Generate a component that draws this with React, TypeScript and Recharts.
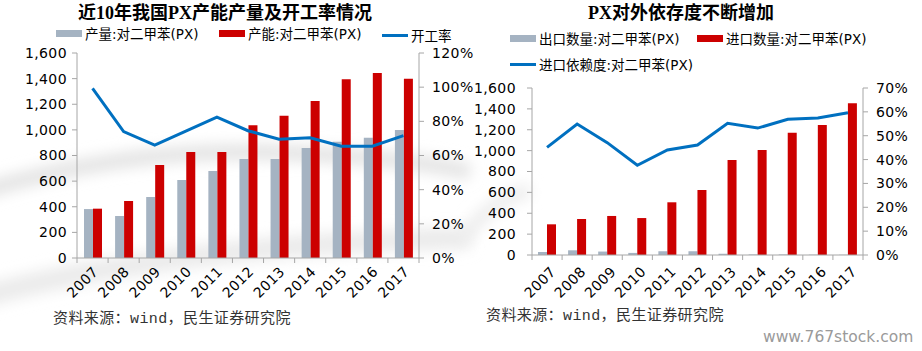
import { Bar, ComposedChart, Line, XAxis, YAxis } from "recharts";

const years = ["2007", "2008", "2009", "2010", "2011", "2012", "2013", "2014", "2015", "2016", "2017"];

// 左图: 产量 / 产能 (万吨), 开工率
const output = [382, 328, 476, 609, 679, 773, 773, 859, 908, 939, 999];
const capacity = [385, 445, 726, 827, 827, 1036, 1110, 1225, 1395, 1444, 1400];
const utilization = [0.993, 0.74, 0.661, 0.743, 0.824, 0.745, 0.695, 0.704, 0.654, 0.654, 0.716];

// 右图: 出口 / 进口数量, 进口依赖度
const exports = [29, 45, 33, 20, 36, 36, 12, 5, 5, 3, 2];
const imports = [294, 345, 374, 354, 505, 623, 910, 1006, 1172, 1245, 1453];
const dependence = [0.451, 0.549, 0.471, 0.376, 0.44, 0.461, 0.552, 0.532, 0.569, 0.574, 0.596];

const leftTicks = [0, 200, 400, 600, 800, 1000, 1200, 1400, 1600];
const rateTicks = [0, 0.2, 0.4, 0.6, 0.8, 1.0, 1.2];
const depTicks = [0, 0.1, 0.2, 0.3, 0.4, 0.5, 0.6, 0.7];

const data1 = years.map((y, i) => ({
    year: y,
    output: output[i],
    capacity: capacity[i],
    rate: utilization[i],
}));

const data2 = years.map((y, i) => ({
    year: y,
    exp: exports[i],
    imp: imports[i],
    dep: dependence[i],
}));

const GREY = "#a5b3c2";
const RED = "#cc0000";
const BLUE = "#0070c0";
const AXIS = "#a6a6a6";
const FONT = "'DejaVu Sans', 'Noto Sans CJK SC', sans-serif";

const tickStyle = { fontSize: 14, fill: "#000", fontFamily: FONT, letterSpacing: 0.4 };

const fmtNum = (v: number) => v.toLocaleString("en-US");
const fmtPct = (v: number) => `${Math.round(v * 100)}%`;

const YearTick = (props: any) => {
    const { x, y, payload, index, band, count, dx = 3, dy = 11 } = props;
    return (
        <g>
            <line x1={x - band / 2} x2={x - band / 2} y1={y} y2={y + 5} stroke={AXIS} />
            {index === count - 1 && (
                <line x1={x + band / 2} x2={x + band / 2} y1={y} y2={y + 5} stroke={AXIS} />
            )}
            <text
                x={x + dx}
                y={y + dy}
                textAnchor="end"
                dominantBaseline="central"
                transform={`rotate(-45 ${x + dx} ${y + dy})`}
                style={tickStyle}
            >
                {payload.value}
            </text>
        </g>
    );
};

const LegendItem = ({ color, line, label }: { color: string; line?: boolean; label: string }) => (
    <span style={{ display: "inline-flex", alignItems: "center", whiteSpace: "nowrap" }}>
        <span
            style={{
                display: "inline-block",
                width: 26,
                height: line ? 3 : 7,
                background: color,
                marginRight: 3,
            }}
        />
        {label}
    </span>
);

const abs = (left: number, top: number, extra: any = {}) => ({
    position: "absolute" as const,
    left,
    top,
    ...extra,
});

const legendText = { fontFamily: FONT, fontSize: 13.5, letterSpacing: 0, color: "#000", lineHeight: "18px" };
const titleText = {
    fontFamily: "'Liberation Serif', 'Noto Sans CJK SC', serif",
    fontWeight: 700,
    fontSize: 18,
    color: "#000",
    lineHeight: "22px",
    whiteSpace: "nowrap" as const,
};
const sourceText = {
    fontFamily: "'Liberation Mono', 'Noto Sans CJK SC', monospace",
    fontSize: 15,
    letterSpacing: 0.4,
    color: "#333",
    lineHeight: "20px",
    whiteSpace: "nowrap" as const,
};

export default function App() {
    return (
        <div style={{ position: "absolute", left: 0, top: 0, width: 922, height: 351, background: "#fff", overflow: "hidden" }}>
            <svg width={922} height={351} style={{ position: "absolute", left: 0, top: 0 }}>
                <defs>
                    <filter id="soft" x="-20%" y="-50%" width="140%" height="200%">
                        <feGaussianBlur stdDeviation="7" />
                    </filter>
                </defs>
                <path d="M -30 195 Q 110 150 260 152 Q 400 156 470 172" stroke="#e4e4e4" strokeWidth={16} fill="none" filter="url(#soft)" />
                <path d="M -30 300 Q 160 245 470 238" stroke="#ebebeb" strokeWidth={22} fill="none" filter="url(#soft)" />
                <path d="M 462 240 Q 490 200 530 190" stroke="#ededed" strokeWidth={14} fill="none" filter="url(#soft)" />
            </svg>

            <div style={abs(0, 2, { width: 450, textAlign: "center", ...titleText })}>近10年我国PX产能产量及开工率情况</div>
            <div style={abs(588, 2, titleText)}>PX对外依存度不断增加</div>

            <div style={abs(56, 23, legendText)}>
                <LegendItem color={GREY} label="产量:对二甲苯(PX)" />
            </div>
            <div style={abs(219, 23, legendText)}>
                <LegendItem color={RED} label="产能:对二甲苯(PX)" />
            </div>
            <div style={abs(382, 23, legendText)}>
                <LegendItem color={BLUE} line label="开工率" />
            </div>

            <div style={abs(510, 28, legendText)}>
                <LegendItem color={GREY} label="出口数量:对二甲苯(PX)" />
            </div>
            <div style={abs(697, 28, legendText)}>
                <LegendItem color={RED} label="进口数量:对二甲苯(PX)" />
            </div>
            <div style={abs(510, 52, legendText)}>
                <LegendItem color={BLUE} line label="进口依赖度:对二甲苯(PX)" />
            </div>

            <div style={abs(0, 0)}>
                <ComposedChart
                    width={480}
                    height={310}
                    data={data1}
                    margin={{ top: 53, right: 0, left: 0, bottom: 0 }}
                    barGap={0}
                >
                    <XAxis
                        dataKey="year"
                        height={52}
                        tickSize={0}
                        tickMargin={0}
                        interval={0}
                        axisLine={{ stroke: AXIS }}
                        tickLine={false}
                        tick={<YearTick band={342 / 11} count={years.length} dx={3} dy={11} />}
                    />
                    <YAxis
                        yAxisId="l"
                        width={77}
                        domain={[0, 1600]}
                        ticks={leftTicks}
                        tickFormatter={fmtNum}
                        tickSize={5}
                        tickMargin={5}
                        axisLine={{ stroke: AXIS }}
                        tickLine={{ stroke: AXIS }}
                        tick={tickStyle}
                        interval={0}
                    />
                    <YAxis
                        yAxisId="r"
                        orientation="right"
                        width={61}
                        domain={[0, 1.2]}
                        ticks={rateTicks}
                        tickFormatter={fmtPct}
                        tickSize={5}
                        tickMargin={8}
                        axisLine={{ stroke: AXIS }}
                        tickLine={{ stroke: AXIS }}
                        tick={tickStyle}
                        interval={0}
                    />
                    <Bar yAxisId="l" dataKey="output" fill={GREY} barSize={9} isAnimationActive={false} />
                    <Bar yAxisId="l" dataKey="capacity" fill={RED} barSize={9} isAnimationActive={false} />
                    <Line
                        yAxisId="r"
                        dataKey="rate"
                        type="linear"
                        stroke={BLUE}
                        strokeWidth={3}
                        dot={false}
                        isAnimationActive={false}
                    />
                </ComposedChart>
            </div>

            <div style={abs(461, 0)}>
                <ComposedChart
                    width={461}
                    height={300}
                    data={data2}
                    margin={{ top: 88, right: 0, left: 0, bottom: 0 }}
                    barGap={0}
                >
                    <XAxis
                        dataKey="year"
                        height={45}
                        tickSize={0}
                        tickMargin={0}
                        interval={0}
                        axisLine={{ stroke: AXIS }}
                        tickLine={false}
                        tick={<YearTick band={331 / 11} count={years.length} dx={6} dy={14} />}
                    />
                    <YAxis
                        yAxisId="l"
                        width={71}
                        domain={[0, 1600]}
                        ticks={leftTicks}
                        tickFormatter={fmtNum}
                        tickSize={5}
                        tickMargin={11}
                        axisLine={{ stroke: AXIS }}
                        tickLine={{ stroke: AXIS }}
                        tick={tickStyle}
                        interval={0}
                    />
                    <YAxis
                        yAxisId="r"
                        orientation="right"
                        width={59}
                        domain={[0, 0.7]}
                        ticks={depTicks}
                        tickFormatter={fmtPct}
                        tickSize={5}
                        tickMargin={8}
                        axisLine={{ stroke: AXIS }}
                        tickLine={{ stroke: AXIS }}
                        tick={tickStyle}
                        interval={0}
                    />
                    <Bar yAxisId="l" dataKey="exp" fill={GREY} barSize={9} isAnimationActive={false} />
                    <Bar yAxisId="l" dataKey="imp" fill={RED} barSize={9} isAnimationActive={false} />
                    <Line
                        yAxisId="r"
                        dataKey="dep"
                        type="linear"
                        stroke={BLUE}
                        strokeWidth={3}
                        dot={false}
                        isAnimationActive={false}
                    />
                </ComposedChart>
            </div>

            <div style={abs(53, 310, sourceText)}>资料来源：wind，民生证券研究院</div>
            <div style={abs(486, 307, sourceText)}>资料来源：wind，民生证券研究院</div>
            <div style={abs(763, 327, { fontFamily: FONT, fontSize: 15.5, color: "#9a9a9a", lineHeight: "20px" })}>
                www.767stock.com
            </div>
        </div>
    );
}
